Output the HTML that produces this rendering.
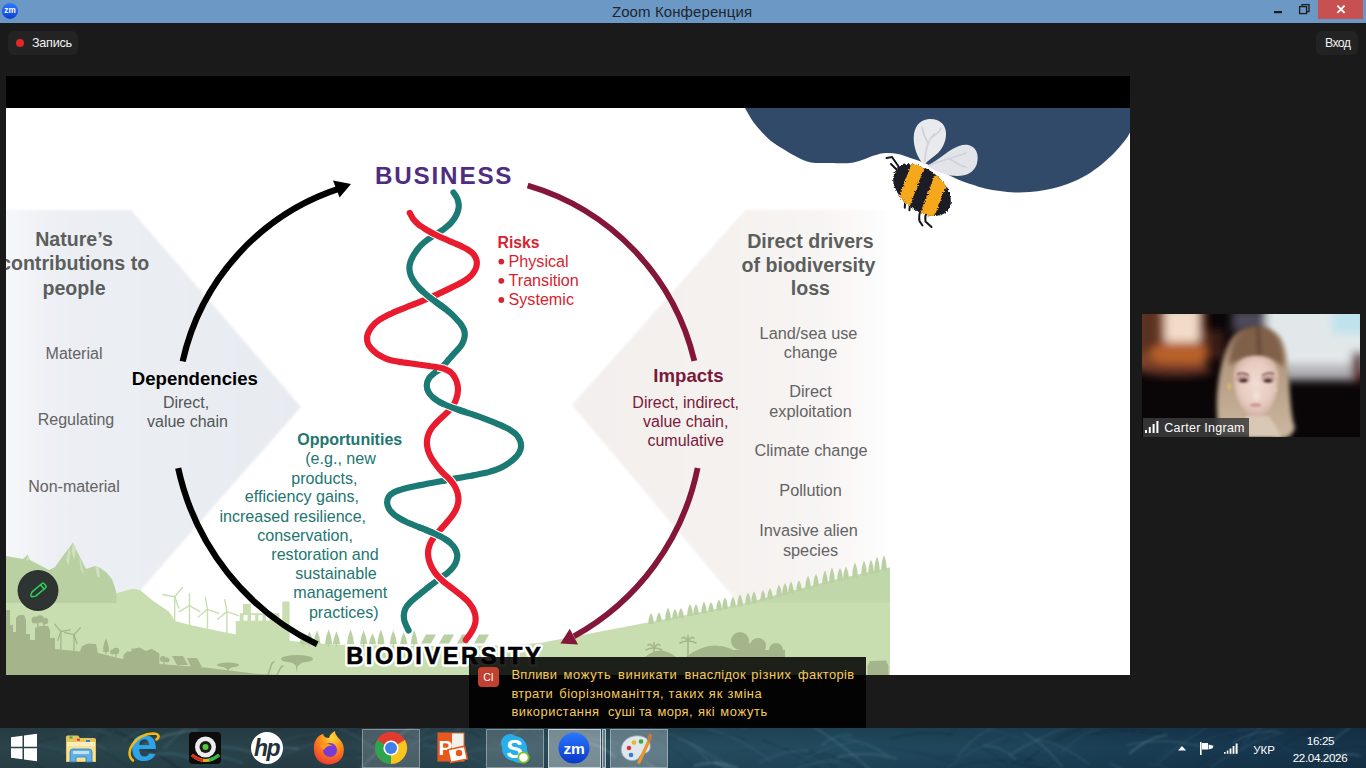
<!DOCTYPE html>
<html><head><meta charset="utf-8"><title>Zoom Конференция</title>
<style>
html,body{margin:0;padding:0;}
body{width:1366px;height:768px;overflow:hidden;background:#1a1a1a;position:relative;font-family:"Liberation Sans","DejaVu Sans",sans-serif;}
.abs{position:absolute;}

.tb{left:0;top:0;width:1366px;height:23px;background:#6b98c5;}
.ttl{left:0;top:0;width:1366px;height:23px;line-height:23px;text-align:center;font-size:15px;color:#1e2630;}
.pill{background:#232323;border-radius:6px;color:#f2f2f2;font-size:12.5px;}
.cap{left:469px;top:657px;width:397px;height:71px;background:rgba(0,0,0,0.86);}
.capt{left:511.5px;top:665.5px;width:360px;color:#f2c254;font-size:13.6px;line-height:18.5px;white-space:nowrap;}
.task{left:0;top:728px;width:1366px;height:40px;overflow:hidden;background:#1d4152;}

</style></head><body>
<div class="abs tb"></div>
<div class="abs ttl"><span style="position:relative;left:-1px;letter-spacing:0.1px">Zoom Конференция</span></div>
<svg class="abs" style="left:0;top:0" width="1366" height="23" viewBox="0 0 1366 23">
<defs><linearGradient id="zmg" x1="0" y1="0" x2="0" y2="1"><stop offset="0" stop-color="#2f7bff"/><stop offset="1" stop-color="#0b3fd6"/></linearGradient></defs>
<circle cx="10" cy="10.9" r="8" fill="url(#zmg)"/>
<text x="10" y="13.3" font-size="8.2" font-weight="bold" fill="#fff" text-anchor="middle" font-family="Liberation Sans, sans-serif">zm</text>
<rect x="1274" y="11" width="8" height="2.2" fill="#1c1c1c"/>
<g fill="none" stroke="#1c1c1c" stroke-width="1.3"><rect x="1299.6" y="6.6" width="7" height="7"/><path d="M1302 6.6 V4.6 H1309 V11.6 H1306.6"/></g>
<rect x="1318" y="0" width="45" height="19" fill="#c75050"/>
<path d="M1337.4 5.6 L1344.6 12.8 M1344.6 5.6 L1337.4 12.8" stroke="#fff" stroke-width="1.9"/>
</svg>
<div class="abs pill" style="left:8px;top:31px;width:70px;height:24px;"></div>
<div class="abs" style="left:16px;top:39px;width:8px;height:8px;border-radius:50%;background:#e02828;"></div>
<div class="abs" style="left:32px;top:31px;height:24px;line-height:24px;color:#f2f2f2;font-size:12.6px;letter-spacing:-0.25px">Запись</div>
<div class="abs pill" style="left:1316px;top:31px;width:42px;height:24px;"></div>
<div class="abs" style="left:1325px;top:31px;height:24px;line-height:24px;color:#f2f2f2;font-size:12.3px;letter-spacing:-0.65px">Вход</div>
<div class="abs" style="left:6px;top:76px;width:1124px;height:599px;background:#000;"></div>
<div class="abs" style="left:6px;top:108px;width:1124px;height:567px;background:#fff;overflow:hidden;">
<svg width="1124" height="567" viewBox="6 108 1124 567" style="position:absolute;left:0;top:0;font-family:'Liberation Sans',sans-serif">
<defs>
<linearGradient id="gL" x1="0" x2="1" y1="0" y2="0"><stop offset="0" stop-color="#f7f8fa"/><stop offset="0.2" stop-color="#eceff4"/><stop offset="1" stop-color="#e7ebf1"/></linearGradient>
<linearGradient id="gR" gradientUnits="userSpaceOnUse" x1="572" x2="890" y1="0" y2="0"><stop offset="0" stop-color="#f3efed"/><stop offset="0.55" stop-color="#f5f2f0"/><stop offset="0.8" stop-color="#f8f5f4"/><stop offset="0.96" stop-color="#fdfcfc"/><stop offset="1" stop-color="#ffffff"/></linearGradient>
<filter id="glow" x="-10%" y="-40%" width="120%" height="180%"><feMorphology in="SourceAlpha" operator="dilate" radius="2.6" result="d"/><feGaussianBlur in="d" stdDeviation="0.8" result="b"/><feFlood flood-color="#fff"/><feComposite in2="b" operator="in"/></filter>
<filter id="soft2" x="-5%" y="-30%" width="110%" height="160%"><feGaussianBlur stdDeviation="0.5"/></filter>
<filter id="soft" x="-5%" y="-5%" width="110%" height="110%"><feGaussianBlur stdDeviation="0.9"/></filter>
</defs>
<path d="M0 210 L131 210 L301 406.9 L141 589.5 L131 610 L0 640Z" fill="url(#gL)" filter="url(#soft)"/>
<path d="M572 405 L745.3 210 L890 210 L890 640 L769.5 640Z" fill="url(#gR)" filter="url(#soft)"/>
<path d="M6.0 556.0 L23.0 559.0 L27.5 554.5 L30.0 560.0 L49.0 570.0 L55.0 567.0 L64.0 554.5 L69.0 548.0 L73.0 542.5 L76.0 549.0 L79.0 555.0 L86.0 569.0 L95.0 566.0 L100.0 567.8 L106.3 572.5 L111.7 578.8 L114.5 586.0 L116.4 593.6 L128.0 594.0 L140.0 590.0 L150.0 600.0 L150.0 612.0 L6.0 612.0Z" fill="#b9d0a3"/>
<g fill="#cfe0be"><path d="M73 542.5 L76 549 L74.5 560 L71.5 552Z"/><path d="M69 548 L66 560 L68.5 566 L70.5 553Z"/><path d="M79 555 L82 566 L84.5 576 L80.5 569Z"/><path d="M95 566 L97 576 L100 578 L99 568Z"/><path d="M27.5 554.5 L29 560 L26.5 561Z"/></g>
<path d="M6.0 603.0 L116.4 603.0 L116.4 593.6 L119.0 592.6 L122.0 591.8 L126.0 590.6 L129.0 589.8 L132.5 589.1 L135.9 588.9 L139.5 590.2 L143.0 592.5 L147.0 595.8 L151.6 599.8 L160.0 605.5 L168.8 611.6 L171.5 615.0 L173.4 618.6 L175.0 621.0 L189.0 624.8 L207.8 628.8 L227.3 632.7 L235.2 634.2 L290.0 640.8 L318.0 643.6 L340.0 644.8 L380.0 645.5 L440.0 646.0 L500.0 645.5 L540.0 643.0 L653.0 621.5 L751.0 602.0 L830.0 581.0 L890.0 567.5 L890.0 675.0 L6.0 675.0Z" fill="#c9deb0"/>
<path d="M748 602.6 L751 602 L830 581 L890 567.5 L890 602.6Z" fill="#c0d7aa"/>
<g stroke="#c9deb0" stroke-width="1.4" stroke-linecap="round" fill="none"><path d="M174.7 620.8 L174.7 596.8"/><path d="M174.7 596.8 L182.4 587.6"/><path d="M174.7 596.8 L178.8 608.1"/><path d="M174.7 596.8 L162.9 594.7"/></g>
<g stroke="#c9deb0" stroke-width="1.4" stroke-linecap="round" fill="none"><path d="M189.5 624.6 L189.5 605.6"/><path d="M189.5 605.6 L189.5 593.6"/><path d="M189.5 605.6 L199.9 611.6"/><path d="M189.5 605.6 L179.1 611.6"/></g>
<g stroke="#c9deb0" stroke-width="1.4" stroke-linecap="round" fill="none"><path d="M207.5 628.8 L207.5 609.3"/><path d="M207.5 609.3 L205.4 597.5"/><path d="M207.5 609.3 L218.8 613.4"/><path d="M207.5 609.3 L198.3 617.0"/></g>
<g stroke="#c9deb0" stroke-width="1.4" stroke-linecap="round" fill="none"><path d="M226.9 632.6 L226.9 611.6"/><path d="M226.9 611.6 L224.8 599.8"/><path d="M226.9 611.6 L238.2 615.7"/><path d="M226.9 611.6 L217.7 619.3"/></g>
<path d="M235.8 646 L235.8 621 L239.7 621 L239.7 613.2 L243 613.2 L243 604 L250.8 604 L250.8 613.2 L279.4 613.2 L279.4 620.3 L282.3 620.3 L282.3 601.4 L289.6 601.4 L289.6 646Z" fill="#c9deb0"/>
<g fill="#fff"><rect x="243.6" y="615" width="3.9" height="5.6"/><rect x="251" y="615" width="4.2" height="5.6"/><rect x="258.3" y="615" width="4.2" height="5.6"/><rect x="265.8" y="615" width="3.9" height="5.6"/></g>
<path d="M299.4 644.3 Q300.0 639.2 303.0 634.3 Q306.0 639.2 306.6 644.3 Z" fill="#b9d0a3"/><rect x="302.4" y="643.8" width="1.2" height="3" fill="#b9d0a3"/>
<path d="M305.9 644.3 Q306.5 637.6 309.5 631.3 Q312.5 637.6 313.1 644.3 Z" fill="#b9d0a3"/><rect x="308.9" y="643.8" width="1.2" height="3" fill="#b9d0a3"/>
<path d="M313.4 644.3 Q314.0 637.0 317.0 630.3 Q320.0 637.0 320.6 644.3 Z" fill="#b9d0a3"/><rect x="316.4" y="643.8" width="1.2" height="3" fill="#b9d0a3"/>
<path d="M325.0 644.3 Q325.6 636.5 328.6 629.3 Q331.6 636.5 332.2 644.3 Z" fill="#b9d0a3"/><rect x="328.0" y="643.8" width="1.2" height="3" fill="#b9d0a3"/>
<path d="M332.9 644.3 Q333.5 637.6 336.5 631.3 Q339.5 637.6 340.1 644.3 Z" fill="#b9d0a3"/><rect x="335.9" y="643.8" width="1.2" height="3" fill="#b9d0a3"/>
<path d="M346.9 644.3 Q347.5 636.5 350.5 629.3 Q353.5 636.5 354.1 644.3 Z" fill="#b9d0a3"/><rect x="349.9" y="643.8" width="1.2" height="3" fill="#b9d0a3"/>
<path d="M360.0 644.3 Q360.6 637.0 363.6 630.3 Q366.6 637.0 367.2 644.3 Z" fill="#b9d0a3"/><rect x="363.0" y="643.8" width="1.2" height="3" fill="#b9d0a3"/>
<path d="M368.9 644.3 Q369.5 638.7 372.5 633.3 Q375.5 638.7 376.1 644.3 Z" fill="#b9d0a3"/><rect x="371.9" y="643.8" width="1.2" height="3" fill="#b9d0a3"/>
<path d="M377.3 644.3 Q377.9 636.5 380.9 629.3 Q383.9 636.5 384.5 644.3 Z" fill="#b9d0a3"/><rect x="380.3" y="643.8" width="1.2" height="3" fill="#b9d0a3"/>
<path d="M389.7 644.3 Q390.3 637.0 393.3 630.3 Q396.3 637.0 396.9 644.3 Z" fill="#b9d0a3"/><rect x="392.7" y="643.8" width="1.2" height="3" fill="#b9d0a3"/>
<path d="M400.1 644.3 Q400.7 638.1 403.7 632.3 Q406.7 638.1 407.3 644.3 Z" fill="#b9d0a3"/><rect x="403.1" y="643.8" width="1.2" height="3" fill="#b9d0a3"/>
<path d="M410.6 644.3 Q411.2 637.0 414.2 630.3 Q417.2 637.0 417.8 644.3 Z" fill="#b9d0a3"/><rect x="413.6" y="643.8" width="1.2" height="3" fill="#b9d0a3"/>
<path d="M421 643.5 L426 634.5 L436 634.5 L431 643.5Z" fill="#b9d0a3"/>
<path d="M439 643.5 L444 634.5 L454 634.5 L449 643.5Z" fill="#b9d0a3"/>
<path d="M457 643.5 L462 634.5 L472 634.5 L467 643.5Z" fill="#b9d0a3"/>
<path d="M474 643.5 L479 634.5 L489 634.5 L484 643.5Z" fill="#b9d0a3"/>
<path d="M648.3 623.9 Q648.1 617.4 651.0 612.9 Q653.9 617.4 653.7 623.9 Z" fill="#b9d0a3"/>
<path d="M656.3 622.3 Q656.1 616.3 659.0 612.3 Q661.9 616.3 661.7 622.3 Z" fill="#b9d0a3"/>
<path d="M665.3 620.5 Q665.1 613.0 668.0 607.5 Q670.9 613.0 670.7 620.5 Z" fill="#b9d0a3"/>
<path d="M672.3 619.1 Q672.1 613.1 675.0 609.1 Q677.9 613.1 677.7 619.1 Z" fill="#b9d0a3"/>
<path d="M678.3 617.9 Q678.1 611.9 681.0 607.9 Q683.9 611.9 683.7 617.9 Z" fill="#b9d0a3"/>
<path d="M687.3 616.1 Q687.1 609.1 690.0 604.1 Q692.9 609.1 692.7 616.1 Z" fill="#b9d0a3"/>
<path d="M693.3 614.9 Q693.1 608.4 696.0 603.9 Q698.9 608.4 698.7 614.9 Z" fill="#b9d0a3"/>
<path d="M701.3 613.4 Q701.1 606.4 704.0 601.4 Q706.9 606.4 706.7 613.4 Z" fill="#b9d0a3"/>
<path d="M708.3 612.0 Q708.1 606.0 711.0 602.0 Q713.9 606.0 713.7 612.0 Z" fill="#b9d0a3"/>
<path d="M716.3 610.4 Q716.1 603.9 719.0 599.4 Q721.9 603.9 721.7 610.4 Z" fill="#b9d0a3"/>
<path d="M722.3 609.2 Q722.1 602.2 725.0 597.2 Q727.9 602.2 727.7 609.2 Z" fill="#b9d0a3"/>
<path d="M730.3 607.6 Q730.1 601.1 733.0 596.6 Q735.9 601.1 735.7 607.6 Z" fill="#b9d0a3"/>
<path d="M737.3 606.2 Q737.1 599.2 740.0 594.2 Q742.9 599.2 742.7 606.2 Z" fill="#b9d0a3"/>
<path d="M745.3 604.6 Q745.1 597.6 748.0 592.6 Q750.9 597.6 750.7 604.6 Z" fill="#b9d0a3"/>
<path d="M751.3 603.2 Q751.1 596.2 754.0 591.2 Q756.9 596.2 756.7 603.2 Z" fill="#b9d0a3"/>
<path d="M760.3 600.8 Q760.1 594.3 763.0 589.8 Q765.9 594.3 765.7 600.8 Z" fill="#b9d0a3"/>
<path d="M767.3 598.9 Q767.1 592.4 770.0 587.9 Q772.9 592.4 772.7 598.9 Z" fill="#b9d0a3"/>
<path d="M776.3 596.6 Q776.1 589.6 779.0 584.6 Q781.9 589.6 781.7 596.6 Z" fill="#b9d0a3"/>
<path d="M782.3 595.0 Q782.1 588.0 785.0 583.0 Q787.9 588.0 787.7 595.0 Z" fill="#b9d0a3"/>
<path d="M788.3 593.4 Q788.1 586.4 791.0 581.4 Q793.9 586.4 793.7 593.4 Z" fill="#b9d0a3"/>
<path d="M796.3 591.2 Q796.1 584.7 799.0 580.2 Q801.9 584.7 801.7 591.2 Z" fill="#b9d0a3"/>
<path d="M805.3 588.8 Q805.1 581.3 808.0 575.8 Q810.9 581.3 810.7 588.8 Z" fill="#b9d0a3"/>
<path d="M813.3 586.7 Q813.1 579.2 816.0 573.7 Q818.9 579.2 818.7 586.7 Z" fill="#b9d0a3"/>
<path d="M822.3 584.3 Q822.1 576.3 825.0 570.3 Q827.9 576.3 827.7 584.3 Z" fill="#b9d0a3"/>
<path d="M829.3 582.5 Q829.1 574.0 832.0 567.5 Q834.9 574.0 834.7 582.5 Z" fill="#b9d0a3"/>
<path d="M837.3 580.8 Q837.1 573.2 840.0 567.8 Q842.9 573.2 842.7 580.8 Z" fill="#b9d0a3"/>
<path d="M843.3 579.4 Q843.1 571.9 846.0 566.4 Q848.9 571.9 848.7 579.4 Z" fill="#b9d0a3"/>
<path d="M852.3 577.4 Q852.1 568.9 855.0 562.4 Q857.9 568.9 857.7 577.4 Z" fill="#b9d0a3"/>
<path d="M861.3 575.4 Q861.1 566.9 864.0 560.4 Q866.9 566.9 866.7 575.4 Z" fill="#b9d0a3"/>
<path d="M868.3 573.8 Q868.1 565.8 871.0 559.8 Q873.9 565.8 873.7 573.8 Z" fill="#b9d0a3"/>
<path d="M874.3 572.4 Q874.1 563.4 877.0 556.4 Q879.9 563.4 879.7 572.4 Z" fill="#b9d0a3"/>
<path d="M881.3 570.9 Q881.1 561.9 884.0 554.9 Q886.9 561.9 886.7 570.9 Z" fill="#b9d0a3"/>
<path d="M6.0 610.0 L10.0 610.0 L10.0 625.0 L13.0 625.0 L13.0 632.0 L16.0 632.0 L16.0 618.0 L19.0 615.0 L24.0 615.0 L26.0 620.0 L26.0 634.0 L30.0 634.0 L30.0 640.0 L35.0 640.0 L35.0 628.0 L40.0 626.0 L48.0 626.0 L50.0 630.0 L50.0 638.0 L55.0 638.0 L55.0 649.0 L80.0 651.5 L82.0 646.0 L88.0 643.5 L96.0 644.0 L98.0 653.0 L123.4 659.2 L123.4 655.0 L127.0 651.5 L131.5 651.5 L131.5 648.5 L135.0 648.5 L139.5 647.4 L144.0 650.0 L146.0 651.0 L151.5 648.8 L159.4 653.5 L159.4 663.9 L205.0 667.4 L256.0 673.8 L282.0 675.0 L6.0 675.0Z" fill="#a4b58b"/>
<g fill="#a4b58b"><circle cx="35" cy="620" r="3.5"/><circle cx="40" cy="619" r="3.8"/><circle cx="45" cy="621" r="3.2"/><rect x="37" y="620" width="1.5" height="8"/><rect x="43" y="620" width="1.5" height="8"/></g>
<g stroke="#a4b58b" stroke-width="1.3" stroke-linecap="round" fill="none"><path d="M60.9 650.0 L60.9 631.5"/><path d="M60.9 631.5 L54.7 624.1"/><path d="M60.9 631.5 L70.4 629.8"/><path d="M60.9 631.5 L57.6 640.5"/></g>
<g stroke="#a4b58b" stroke-width="1.3" stroke-linecap="round" fill="none"><path d="M74.0 651.5 L74.0 634.7"/><path d="M74.0 634.7 L80.4 627.6"/><path d="M74.0 634.7 L77.0 643.8"/><path d="M74.0 634.7 L64.6 632.7"/></g>
<g fill="#a4b58b"><path d="M106 638.6 Q109.6 646 108.6 652 L103.4 652 Q102.4 646 106 638.6Z"/><rect x="105.3" y="645" width="1.4" height="9"/><circle cx="116" cy="651" r="3.2"/><circle cx="112.5" cy="652" r="2.4"/><rect x="115.3" y="651" width="1.3" height="6"/><circle cx="163" cy="659" r="3"/><circle cx="167" cy="660" r="2.5"/><rect x="163.4" y="659" width="1.2" height="6"/></g>
<g fill="#a4b58b"><path d="M172 656 L183 656 L188 665 L177 665Z"/><path d="M187 658 L197 658 L202 667 L191 667Z"/></g>
<g fill="#a4b58b"><ellipse cx="228.0" cy="665.0" rx="11.0" ry="2.5"/><path d="M227.2 674.0 L227.2 669.5 L221.4 665.0 L234.6 665.0 L228.8 669.5 Z"/></g>
<g fill="#a4b58b"><ellipse cx="297.0" cy="659.0" rx="16.0" ry="3.9"/><path d="M296.2 673.0 L296.2 666.0 L287.4 659.0 L306.6 659.0 L297.8 666.0 Z"/></g>
<g fill="none" stroke="#a4b58b" stroke-width="1.6" stroke-linecap="round"><path d="M268 675 L272 663 L274 662"/><path d="M277 675 L281 667 L283 666"/></g>
<g fill="#a4b58b"><path d="M645 657 Q660 644 676 657Z"/><path d="M686 657 Q715 634 745 657Z"/><circle cx="740" cy="641" r="9"/><circle cx="758" cy="646" r="8"/><circle cx="776" cy="650" r="7"/><circle cx="748" cy="650" r="7"/><rect x="730" y="650" width="55" height="8"/><path d="M867.5 675 L867.5 666 L870 661 L886 660.5 L888.5 666 L888.5 675Z"/></g>
<g stroke="#a4b58b" stroke-width="1.6" fill="none" stroke-linecap="round"><path d="M654.0 657.0 L654.0 648.0"/><path d="M654.0 648.0 Q649.2 648.0 646.0 650.0"/><path d="M654.0 648.0 Q650.4 643.0 648.0 645.0"/><path d="M654.0 648.0 Q654.0 641.0 654.0 643.0"/><path d="M654.0 648.0 Q657.6 643.0 660.0 645.0"/><path d="M654.0 648.0 Q658.8 648.0 662.0 650.0"/></g>
<g stroke="#a4b58b" stroke-width="1.6" fill="none" stroke-linecap="round"><path d="M688.0 657.0 L688.0 641.0"/><path d="M688.0 641.0 Q683.2 641.0 680.0 643.0"/><path d="M688.0 641.0 Q684.4 636.0 682.0 638.0"/><path d="M688.0 641.0 Q688.0 634.0 688.0 636.0"/><path d="M688.0 641.0 Q691.6 636.0 694.0 638.0"/><path d="M688.0 641.0 Q692.8 641.0 696.0 643.0"/></g>
<path d="M745.0 108.0 C746.2 110.0 749.5 116.3 752.0 120.0 C754.5 123.7 756.8 126.5 760.0 130.0 C763.2 133.5 767.0 137.8 771.0 141.0 C775.0 144.2 779.7 146.8 784.0 149.5 C788.3 152.2 792.5 154.8 797.0 157.0 C801.5 159.2 805.5 161.4 811.0 162.4 C816.5 163.4 823.5 162.9 830.0 163.0 C836.5 163.1 844.7 163.5 850.0 163.0 C855.3 162.5 858.0 161.2 862.0 160.0 C866.0 158.8 870.0 156.7 874.0 155.5 C878.0 154.3 882.0 153.2 886.0 153.0 C890.0 152.8 893.7 153.1 898.0 154.0 C902.3 154.9 907.0 156.8 912.0 158.5 C917.0 160.2 922.8 162.2 928.0 164.5 C933.2 166.8 938.0 169.5 943.0 172.0 C948.0 174.5 953.2 177.4 958.0 179.5 C962.8 181.6 967.5 183.0 972.0 184.5 C976.5 186.0 980.3 187.4 985.0 188.5 C989.7 189.6 995.0 190.3 1000.0 191.0 C1005.0 191.7 1010.0 192.2 1015.0 192.4 C1020.0 192.6 1025.0 192.4 1030.0 192.0 C1035.0 191.6 1040.0 190.9 1045.0 190.0 C1050.0 189.1 1055.0 188.0 1060.0 186.5 C1065.0 185.0 1070.0 183.2 1075.0 181.0 C1080.0 178.8 1085.0 176.2 1090.0 173.0 C1095.0 169.8 1100.7 165.2 1105.0 161.5 C1109.3 157.8 1112.5 154.8 1116.0 151.0 C1119.5 147.2 1123.7 142.1 1126.0 139.0 C1128.3 135.9 1129.3 133.5 1130.0 132.4 L1130 108Z" fill="#324a69"/>
<g>
<defs><filter id="fuzz" x="-10%" y="-10%" width="120%" height="120%"><feTurbulence type="fractalNoise" baseFrequency="0.55" numOctaves="2" seed="3" result="n"/><feDisplacementMap in="SourceGraphic" in2="n" scale="4.5" xChannelSelector="R" yChannelSelector="G"/></filter></defs>
<path d="M924 165 C911 151 908 121 929 119 C950 118 950 141 938 153 C932 158 927 161 924 165Z" fill="#e9eaee"/>
<path d="M927 166 C940 159 948 150 959 146 C973 141 981 152 976.5 165 C971 179 950 180 927 166Z" fill="#e3e4e9"/>
<g stroke="#d0d2d9" stroke-width="1.7" fill="none" stroke-linecap="round"><path d="M925 161 C925 150 927 142 934 134 M928 143 C925 138 923 133 922 127 M932 137 C937 134 940 132 941 128"/><path d="M930 165 C942 160 954 158 966 153 M950 159 C956 163 961 166 966 167"/></g>
<g stroke="#15151c" stroke-width="2" stroke-linecap="round" fill="none"><path d="M899.6 168 L892 157 L886.5 158"/><path d="M897 170 L891 164"/><path d="M906.4 196 Q904.5 202 904.8 207.8"/><path d="M911.5 198.5 Q909.5 204 909.4 210.2"/><path d="M920.8 209.5 Q918.5 216 919.5 221 L922.5 225.5"/><path d="M926.7 212 Q924.5 217 925.5 221.5 L931.5 227"/></g>
<g filter="url(#fuzz)"><g transform="rotate(38 922 190)">
<clipPath id="beeclip"><ellipse cx="922" cy="190" rx="33" ry="20.5"/></clipPath>
<ellipse cx="922" cy="190" rx="33" ry="20.5" fill="#1b1b25"/>
<g clip-path="url(#beeclip)"><path d="M894 165 L908 165 L924 215 L910 215Z" fill="#f6a81e"/><path d="M921 165 L936 165 L952 215 L937 215Z" fill="#f6a81e"/></g>
</g></g>
</g>
<path d="M182.66 361.31 A236.0 236.0 0 0 1 340.99 187.96" fill="none" stroke="#000" stroke-width="6.2"/>
<path d="M351 184.1 L333 180.6 L339.6 197.6Z" fill="#000"/>
<path d="M178.18 468.21 A255.3 255.3 0 0 0 317.14 644.32" fill="none" stroke="#000" stroke-width="6.2"/>
<path d="M527.66 185.50 A240.9 240.9 0 0 1 694.35 360.89" fill="none" stroke="#841639" stroke-width="5.8"/>
<path d="M697.61 467.96 A248.7 248.7 0 0 1 573.95 636.21" fill="none" stroke="#841639" stroke-width="5.8"/>
<path d="M560.4 643.4 L569.8 628.8 L578 644.5Z" fill="#841639"/>
<path d="M453.5 192.5 C454.1 193.5 456.3 196.3 457.2 198.4 C458.1 200.6 458.7 202.9 458.8 205.2 C458.9 207.5 458.3 209.9 457.6 212.0 C456.9 214.2 455.7 216.3 454.5 218.3 C453.2 220.2 451.7 222.1 450.1 223.8 C448.5 225.4 446.7 226.9 444.8 228.3 C443.0 229.8 441.0 231.0 439.0 232.3 C437.1 233.6 435.1 234.8 433.2 236.0 C431.2 237.3 429.2 238.6 427.3 239.9 C425.5 241.3 423.6 242.8 421.9 244.4 C420.3 246.0 418.7 247.8 417.3 249.6 C415.9 251.5 414.6 253.4 413.4 255.4 C412.3 257.5 411.1 259.6 410.5 261.8 C409.8 264.0 409.3 266.4 409.4 268.6 C409.4 270.9 410.0 273.3 410.8 275.5 C411.6 277.6 412.8 279.7 414.1 281.6 C415.3 283.6 416.9 285.4 418.4 287.1 C420.0 288.8 421.7 290.4 423.4 292.0 C425.2 293.6 426.9 295.1 428.7 296.6 C430.5 298.0 432.4 299.5 434.3 300.8 C436.2 302.2 438.1 303.5 440.0 304.9 C441.9 306.2 443.8 307.6 445.6 309.0 C447.4 310.5 449.2 312.0 450.9 313.6 C452.6 315.2 454.3 316.8 455.9 318.5 C457.5 320.2 459.2 321.9 460.6 323.7 C461.9 325.6 463.3 327.6 464.0 329.8 C464.7 332.0 464.9 334.5 464.6 336.7 C464.3 339.0 463.5 341.3 462.4 343.3 C461.4 345.4 459.8 347.2 458.3 349.0 C456.8 350.8 455.1 352.3 453.5 354.1 C451.9 355.8 450.4 357.6 448.9 359.3 C447.4 361.1 446.0 363.0 444.4 364.7 C442.8 366.4 441.1 368.0 439.3 369.5 C437.5 371.0 435.4 372.1 433.7 373.6 C431.9 375.1 429.9 376.7 428.8 378.6 C427.6 380.5 426.8 383.0 426.8 385.2 C426.7 387.4 427.4 389.9 428.4 391.9 C429.4 393.9 431.1 395.8 432.8 397.3 C434.4 398.9 436.5 400.2 438.5 401.4 C440.5 402.6 442.6 403.6 444.7 404.5 C446.9 405.5 449.0 406.3 451.2 407.1 C453.4 408.0 455.6 408.7 457.8 409.5 C460.0 410.3 462.2 411.0 464.4 411.7 C466.7 412.5 468.9 413.2 471.1 413.9 C473.3 414.7 475.5 415.4 477.7 416.2 C479.9 417.0 482.1 417.8 484.3 418.6 C486.5 419.4 488.6 420.3 490.8 421.1 C493.0 422.0 495.1 422.9 497.3 423.8 C499.4 424.7 501.6 425.6 503.7 426.6 C505.8 427.6 508.0 428.5 509.9 429.8 C511.9 431.0 513.9 432.3 515.6 433.9 C517.2 435.5 518.7 437.5 519.6 439.5 C520.6 441.6 521.2 444.1 521.1 446.3 C521.0 448.6 520.1 450.9 519.0 452.9 C517.9 454.9 516.2 456.7 514.6 458.3 C512.9 460.0 511.1 461.5 509.2 462.8 C507.3 464.2 505.3 465.4 503.2 466.5 C501.2 467.6 499.1 468.6 496.9 469.4 C494.7 470.3 492.5 471.0 490.3 471.6 C488.0 472.3 485.7 472.8 483.5 473.3 C481.2 473.8 478.9 474.3 476.6 474.7 C474.3 475.1 472.0 475.6 469.7 476.0 C467.4 476.4 465.1 476.8 462.8 477.2 C460.5 477.6 458.2 478.0 455.9 478.4 C453.6 478.9 451.3 479.3 449.1 479.7 C446.8 480.1 444.5 480.6 442.2 481.0 C439.9 481.4 437.6 481.8 435.3 482.3 C433.0 482.7 430.7 483.1 428.4 483.5 C426.1 484.0 423.8 484.4 421.5 484.9 C419.2 485.3 417.0 485.8 414.7 486.3 C412.4 486.8 410.1 487.3 407.9 487.8 C405.6 488.4 403.3 488.9 401.1 489.6 C398.9 490.3 396.5 490.9 394.5 492.0 C392.5 493.1 390.3 494.5 389.0 496.3 C387.8 498.1 387.0 500.6 387.1 502.8 C387.1 505.0 388.2 507.4 389.3 509.4 C390.5 511.3 392.3 513.0 394.0 514.6 C395.8 516.1 397.8 517.3 399.8 518.5 C401.8 519.7 403.9 520.7 406.0 521.7 C408.1 522.7 410.3 523.6 412.4 524.5 C414.6 525.4 416.8 526.2 418.9 527.1 C421.1 528.0 423.3 528.8 425.4 529.7 C427.6 530.6 429.7 531.5 431.9 532.4 C434.0 533.4 436.1 534.3 438.2 535.4 C440.3 536.4 442.4 537.5 444.4 538.7 C446.3 539.9 448.4 541.2 450.1 542.7 C451.8 544.3 453.5 546.0 454.7 548.0 C455.9 549.9 456.9 552.2 457.2 554.5 C457.4 556.7 457.0 559.2 456.3 561.3 C455.6 563.5 454.3 565.6 452.9 567.4 C451.5 569.3 449.8 570.9 448.0 572.4 C446.3 574.0 444.3 575.2 442.4 576.6 C440.6 578.0 438.6 579.4 436.8 580.7 C434.9 582.1 433.1 583.6 431.2 585.0 C429.4 586.5 427.6 587.9 425.7 589.3 C423.9 590.8 422.1 592.2 420.3 593.7 C418.4 595.2 416.6 596.6 414.9 598.2 C413.1 599.7 411.3 601.2 409.7 602.9 C408.1 604.6 406.5 606.4 405.5 608.5 C404.5 610.5 403.9 612.9 403.8 615.2 C403.7 617.5 404.0 619.6 404.8 622.1 C405.6 624.7 408.0 629.1 408.6 630.5" fill="none" stroke="#1b7a73" stroke-width="6.2" stroke-linecap="round"/>
<path d="M429.8 231.7 C431.9 232.9 433.9 234.0 436.0 235.0 C438.1 236.0 440.2 237.0 442.4 238.0" fill="none" stroke="#fff" stroke-width="8.4"/>
<path d="M437.5 367.3 C439.8 367.7 442.1 368.1 444.3 368.8 C446.4 369.6 448.7 370.6 450.5 372.0" fill="none" stroke="#fff" stroke-width="8.4"/>
<path d="M443.4 473.4 C445.0 475.1 446.9 476.5 448.5 478.2 C450.1 479.9 451.7 481.6 453.0 483.5" fill="none" stroke="#fff" stroke-width="8.4"/>
<path d="M437.3 575.5 C438.8 577.3 440.5 578.9 442.3 580.4 C444.0 582.0 445.8 583.4 447.7 584.9" fill="none" stroke="#fff" stroke-width="8.4"/>
<path d="M409.8 213.0 C410.4 214.0 411.9 217.2 413.3 219.1 C414.7 220.9 416.4 222.6 418.1 224.1 C419.9 225.6 421.9 226.8 423.8 228.1 C425.8 229.4 427.8 230.6 429.8 231.7 C431.9 232.9 433.9 234.0 436.0 235.0 C438.1 236.0 440.2 237.0 442.4 238.0 C444.5 238.9 446.6 239.8 448.8 240.8 C450.9 241.7 453.1 242.6 455.2 243.5 C457.3 244.5 459.5 245.4 461.6 246.4 C463.7 247.4 465.9 248.4 467.8 249.6 C469.7 250.9 471.8 252.2 473.3 254.0 C474.7 255.7 476.0 257.9 476.5 260.1 C477.0 262.3 476.9 264.8 476.3 267.0 C475.7 269.2 474.5 271.3 473.1 273.2 C471.8 275.1 470.0 276.7 468.2 278.2 C466.4 279.6 464.4 280.8 462.4 282.0 C460.3 283.2 458.3 284.2 456.2 285.3 C454.1 286.4 452.0 287.4 449.9 288.4 C447.8 289.4 445.7 290.4 443.6 291.4 C441.5 292.4 439.4 293.4 437.3 294.4 C435.1 295.4 433.0 296.3 430.9 297.3 C428.7 298.2 426.6 299.1 424.4 300.0 C422.3 300.9 420.1 301.8 418.0 302.7 C415.8 303.5 413.6 304.4 411.5 305.2 C409.3 306.1 407.1 307.0 404.9 307.8 C402.8 308.7 400.6 309.5 398.5 310.4 C396.3 311.3 394.1 312.2 392.0 313.2 C389.9 314.2 387.8 315.1 385.7 316.2 C383.6 317.3 381.6 318.4 379.6 319.7 C377.7 321.0 375.9 322.5 374.2 324.1 C372.6 325.8 371.0 327.6 369.9 329.6 C368.7 331.6 367.6 333.8 367.2 336.0 C366.9 338.2 367.0 340.8 367.7 342.9 C368.4 345.1 369.9 347.1 371.4 348.8 C372.9 350.6 374.8 352.0 376.7 353.4 C378.6 354.8 380.5 356.0 382.6 357.1 C384.7 358.2 386.8 359.1 389.1 359.8 C391.3 360.5 393.6 360.9 395.9 361.3 C398.2 361.7 400.5 362.0 402.8 362.4 C405.1 362.7 407.4 363.0 409.7 363.3 C412.1 363.6 414.4 363.9 416.7 364.2 C419.0 364.5 421.3 364.9 423.6 365.2 C425.9 365.5 428.2 365.8 430.6 366.2 C432.9 366.5 435.2 366.8 437.5 367.3 C439.8 367.7 442.1 368.1 444.3 368.8 C446.4 369.6 448.7 370.6 450.5 372.0 C452.2 373.5 453.7 375.5 454.8 377.5 C456.0 379.5 456.8 381.7 457.3 384.0 C457.9 386.2 458.1 388.6 457.9 390.9 C457.8 393.2 457.3 395.6 456.6 397.8 C456.0 400.0 455.0 402.2 453.9 404.2 C452.7 406.2 451.2 408.0 449.7 409.8 C448.1 411.5 446.4 413.1 444.7 414.7 C443.0 416.3 441.3 417.9 439.6 419.5 C437.9 421.1 436.2 422.7 434.7 424.5 C433.1 426.2 431.6 428.0 430.5 430.0 C429.3 432.0 428.3 434.2 427.7 436.5 C427.1 438.7 426.9 441.1 426.9 443.4 C427.0 445.7 427.4 448.1 428.0 450.3 C428.6 452.5 429.6 454.7 430.7 456.7 C431.8 458.8 433.1 460.7 434.5 462.6 C435.8 464.6 437.2 466.4 438.7 468.2 C440.2 470.0 441.8 471.7 443.4 473.4 C445.0 475.1 446.9 476.5 448.5 478.2 C450.1 479.9 451.7 481.6 453.0 483.5 C454.4 485.4 455.6 487.5 456.4 489.6 C457.3 491.8 458.0 494.1 458.2 496.4 C458.5 498.6 458.5 501.1 458.0 503.3 C457.6 505.6 456.8 507.8 455.8 509.9 C454.8 512.0 453.4 514.0 452.1 515.9 C450.7 517.8 449.2 519.5 447.7 521.3 C446.2 523.1 444.6 524.8 443.1 526.6 C441.6 528.3 440.0 530.0 438.4 531.8 C436.9 533.6 435.3 535.3 434.0 537.2 C432.6 539.1 431.3 541.0 430.3 543.2 C429.4 545.3 428.7 547.6 428.3 549.8 C428.0 552.1 428.0 554.5 428.3 556.8 C428.6 559.1 429.3 561.4 430.1 563.6 C430.9 565.7 432.0 567.8 433.2 569.8 C434.4 571.8 435.8 573.7 437.3 575.5 C438.8 577.3 440.5 578.9 442.3 580.4 C444.0 582.0 445.8 583.4 447.7 584.9 C449.5 586.3 451.4 587.7 453.2 589.1 C455.1 590.6 456.9 592.0 458.8 593.4 C460.6 594.9 462.4 596.3 464.2 597.9 C465.9 599.4 467.6 601.1 469.1 602.8 C470.5 604.6 471.9 606.6 473.0 608.6 C474.0 610.7 474.9 613.0 475.3 615.2 C475.7 617.5 475.7 619.9 475.4 622.2 C475.0 624.4 474.2 626.7 473.2 628.8 C472.3 630.9 470.9 633.0 469.7 634.8 C468.4 636.7 466.4 639.1 465.8 640.0" fill="none" stroke="#e81c2e" stroke-width="6.2" stroke-linecap="round"/>
<path d="M423.4 292.0 C425.2 293.6 426.9 295.1 428.7 296.6 C430.5 298.0 432.4 299.5 434.3 300.8" fill="none" stroke="#fff" stroke-width="8.4"/>
<path d="M418.4 287.1 C420.0 288.8 421.7 290.4 423.4 292.0 C425.2 293.6 426.9 295.1 428.7 296.6 C430.5 298.0 432.4 299.5 434.3 300.8 C436.2 302.2 438.1 303.5 440.0 304.9 C441.9 306.2 443.8 307.6 445.6 309.0" fill="none" stroke="#1b7a73" stroke-width="6.2"/>
<path d="M444.7 404.5 C446.9 405.5 449.0 406.3 451.2 407.1 C453.4 408.0 455.6 408.7 457.8 409.5" fill="none" stroke="#fff" stroke-width="8.4"/>
<path d="M438.5 401.4 C440.5 402.6 442.6 403.6 444.7 404.5 C446.9 405.5 449.0 406.3 451.2 407.1 C453.4 408.0 455.6 408.7 457.8 409.5 C460.0 410.3 462.2 411.0 464.4 411.7" fill="none" stroke="#1b7a73" stroke-width="6.2"/>
<path d="M431.9 532.4 C434.0 533.4 436.1 534.3 438.2 535.4 C440.3 536.4 442.4 537.5 444.4 538.7" fill="none" stroke="#fff" stroke-width="8.4"/>
<path d="M418.9 527.1 C421.1 528.0 423.3 528.8 425.4 529.7 C427.6 530.6 429.7 531.5 431.9 532.4 C434.0 533.4 436.1 534.3 438.2 535.4 C440.3 536.4 442.4 537.5 444.4 538.7 C446.3 539.9 448.4 541.2 450.1 542.7" fill="none" stroke="#1b7a73" stroke-width="6.2"/>
<text x="374.9" y="184.0" font-size="24.2" fill="#4f2c7e" font-weight="bold" text-anchor="start" letter-spacing="1.85">BUSINESS</text>
<g filter="url(#soft2)"><text x="346.2" y="664.4" font-size="23.6" fill="#fff" font-weight="bold" text-anchor="start" letter-spacing="2.55" stroke="#fff" stroke-width="5.4" stroke-linejoin="round">BIODIVERSITY</text></g>
<text x="346.2" y="664.4" font-size="23.6" fill="#000" font-weight="bold" text-anchor="start" letter-spacing="2.55" stroke="#000" stroke-width="0.55">BIODIVERSITY</text>
<text x="497.5" y="247.9" font-size="15.8" fill="#d8232f" font-weight="bold" text-anchor="start">Risks</text>
<circle cx="501.3" cy="261.6" r="2.9" fill="#d8232f"/>
<text x="508.5" y="267.0" font-size="16.15" fill="#d8232f" font-weight="normal" text-anchor="start">Physical</text>
<circle cx="501.3" cy="280.8" r="2.9" fill="#d8232f"/>
<text x="508.5" y="286.2" font-size="16.15" fill="#d8232f" font-weight="normal" text-anchor="start">Transition</text>
<circle cx="501.3" cy="300.0" r="2.9" fill="#d8232f"/>
<text x="508.5" y="305.4" font-size="16.15" fill="#d8232f" font-weight="normal" text-anchor="start">Systemic</text>
<text x="74.0" y="246.0" font-size="19.6" fill="#5b5e5c" font-weight="bold" text-anchor="middle">Nature’s</text>
<text x="74.6" y="270.3" font-size="19.6" fill="#5b5e5c" font-weight="bold" text-anchor="middle">contributions to</text>
<text x="74.0" y="294.7" font-size="19.6" fill="#5b5e5c" font-weight="bold" text-anchor="middle">people</text>
<text x="74.0" y="359.4" font-size="16" fill="#636363" font-weight="normal" text-anchor="middle">Material</text>
<text x="76.0" y="425.3" font-size="16" fill="#636363" font-weight="normal" text-anchor="middle">Regulating</text>
<text x="74.0" y="492.2" font-size="16" fill="#636363" font-weight="normal" text-anchor="middle">Non-material</text>
<text x="194.8" y="385.0" font-size="18.6" fill="#000" font-weight="bold" text-anchor="middle">Dependencies</text>
<text x="186.0" y="407.8" font-size="16" fill="#555" font-weight="normal" text-anchor="middle">Direct,</text>
<text x="187.5" y="426.8" font-size="16" fill="#555" font-weight="normal" text-anchor="middle">value chain</text>
<text x="810.4" y="247.5" font-size="19.6" fill="#5b5e5c" font-weight="bold" text-anchor="middle">Direct drivers</text>
<text x="808.5" y="271.5" font-size="19.6" fill="#5b5e5c" font-weight="bold" text-anchor="middle">of biodiversity</text>
<text x="810.4" y="295.3" font-size="19.6" fill="#5b5e5c" font-weight="bold" text-anchor="middle">loss</text>
<text x="808.5" y="338.8" font-size="16.3" fill="#636363" font-weight="normal" text-anchor="middle">Land/sea use</text>
<text x="810.5" y="358.1" font-size="16.3" fill="#636363" font-weight="normal" text-anchor="middle">change</text>
<text x="810.5" y="397.2" font-size="16.3" fill="#636363" font-weight="normal" text-anchor="middle">Direct</text>
<text x="810.5" y="416.6" font-size="16.3" fill="#636363" font-weight="normal" text-anchor="middle">exploitation</text>
<text x="811.0" y="456.4" font-size="16.3" fill="#636363" font-weight="normal" text-anchor="middle">Climate change</text>
<text x="810.5" y="496.2" font-size="16.3" fill="#636363" font-weight="normal" text-anchor="middle">Pollution</text>
<text x="808.5" y="536.2" font-size="16.3" fill="#636363" font-weight="normal" text-anchor="middle">Invasive alien</text>
<text x="810.5" y="555.6" font-size="16.3" fill="#636363" font-weight="normal" text-anchor="middle">species</text>
<text x="688.5" y="381.7" font-size="18.6" fill="#7a1a3a" font-weight="bold" text-anchor="middle">Impacts</text>
<text x="685.7" y="408.2" font-size="16" fill="#7a1a3a" font-weight="normal" text-anchor="middle">Direct, indirect,</text>
<text x="685.7" y="427.0" font-size="16" fill="#7a1a3a" font-weight="normal" text-anchor="middle">value chain,</text>
<text x="685.7" y="446.3" font-size="16" fill="#7a1a3a" font-weight="normal" text-anchor="middle">cumulative</text>
<text x="297.3" y="444.8" font-size="16" fill="#23766f" font-weight="bold" text-anchor="start">Opportunities</text>
<text x="375.9" y="464.1" font-size="16.1" fill="#23766f" font-weight="normal" text-anchor="end">(e.g., new</text>
<text x="357.5" y="483.5" font-size="16.1" fill="#23766f" font-weight="normal" text-anchor="end">products,</text>
<text x="359.0" y="502.4" font-size="16.1" fill="#23766f" font-weight="normal" text-anchor="end">efficiency gains,</text>
<text x="366.1" y="521.5" font-size="16.1" fill="#23766f" font-weight="normal" text-anchor="end">increased resilience,</text>
<text x="352.9" y="540.8" font-size="16.1" fill="#23766f" font-weight="normal" text-anchor="end">conservation,</text>
<text x="378.7" y="560.0" font-size="16.1" fill="#23766f" font-weight="normal" text-anchor="end">restoration and</text>
<text x="376.7" y="579.1" font-size="16.1" fill="#23766f" font-weight="normal" text-anchor="end">sustainable</text>
<text x="387.3" y="598.3" font-size="16.1" fill="#23766f" font-weight="normal" text-anchor="end">management</text>
<text x="378.7" y="617.9" font-size="16.1" fill="#23766f" font-weight="normal" text-anchor="end">practices)</text>
</svg>
</div>
<svg class="abs" style="left:17px;top:570px" width="42" height="42" viewBox="0 0 42 42">
<circle cx="21" cy="20.5" r="20" fill="#2e3431" stroke="#1e2220" stroke-width="0.8"/>
<g fill="none" stroke="#2bd35e" stroke-width="1.5" stroke-linejoin="round" stroke-linecap="round" transform="rotate(-40 21 20.5)">
<path d="M12.3 21.4 Q11.7 20.5 12.3 19.6 L15.6 17.7 H28.6 Q30 17.7 30 19.1 V21.9 Q30 23.3 28.6 23.3 H15.6 Z"/><path d="M26.6 17.7 V23.3"/></g>
</svg>
<svg class="abs" style="left:1142px;top:314px" width="218" height="123" viewBox="1142 314 218 123">
<defs><filter id="b6" x="-30%" y="-30%" width="160%" height="160%"><feGaussianBlur stdDeviation="4.5"/></filter>
<filter id="b3" x="-30%" y="-30%" width="160%" height="160%"><feGaussianBlur stdDeviation="2.2"/></filter>
<filter id="b2" x="-30%" y="-30%" width="160%" height="160%"><feGaussianBlur stdDeviation="1.5"/></filter>
<filter id="b1" x="-30%" y="-30%" width="160%" height="160%"><feGaussianBlur stdDeviation="0.9"/></filter>
<radialGradient id="faceg" cx="0.5" cy="0.45" r="0.62"><stop offset="0" stop-color="#f1dcd3"/><stop offset="0.6" stop-color="#e6cabf"/><stop offset="1" stop-color="#c9a596"/></radialGradient>
<linearGradient id="hairg" x1="0" y1="0" x2="0" y2="1"><stop offset="0" stop-color="#8a6850"/><stop offset="0.35" stop-color="#b39a80"/><stop offset="1" stop-color="#cbb8a0"/></linearGradient>
</defs>
<rect x="1142" y="314" width="218" height="123" fill="#0a0507"/>
<g filter="url(#b6)">
<rect x="1134" y="306" width="72" height="64" fill="#7c4326"/>
<rect x="1138" y="308" width="20" height="44" fill="#5a3220"/>
<rect x="1165" y="308" width="34" height="34" fill="#f2dcc8"/>
<ellipse cx="1180" cy="354" rx="30" ry="12" fill="#b8602c"/>
<ellipse cx="1176" cy="370" rx="36" ry="6" fill="#6a3428"/>
<rect x="1206" y="330" width="18" height="30" fill="#3a1c16"/>
<rect x="1266" y="304" width="102" height="68" fill="#e2e8ea"/>
<rect x="1232" y="310" width="34" height="22" fill="#4e4a58"/>
<rect x="1332" y="304" width="36" height="30" fill="#bfe2ec"/>
<rect x="1284" y="364" width="72" height="16" fill="#b4b3b8"/>
<rect x="1352" y="352" width="12" height="30" fill="#5a1a1c"/>
</g>
<g filter="url(#b3)">
<path d="M1220 436 C1212 404 1220 356 1231 339 C1241 323 1272 322 1281 339 C1292 358 1287 402 1295 428 C1290 440 1282 440 1272 436 L1240 436Z" fill="url(#hairg)"/>
<path d="M1229 366 C1230 338 1246 326 1258 326 C1271 327 1284 340 1284 368 C1272 354 1244 354 1229 366Z" fill="#80604a"/>
<path d="M1258 327 L1259.5 356" stroke="#5a3e30" stroke-width="3"/>
</g>
<g filter="url(#b2)">
<path d="M1233.5 376 C1233.5 361 1245 356 1256.5 356 C1268 356 1278.5 361 1278.5 376 C1278.5 396 1270 417 1256.5 417 C1243 417 1233.5 396 1233.5 376Z" fill="url(#faceg)"/>
<path d="M1246 416 L1269 416 L1282 437 L1248 437Z" fill="#d9c8b6"/>
<ellipse cx="1243" cy="379" rx="7" ry="4" fill="#9c7068" fill-opacity="0.55"/><ellipse cx="1268" cy="379" rx="7" ry="4" fill="#9c7068" fill-opacity="0.55"/>
<ellipse cx="1256.5" cy="396" rx="3.5" ry="5" fill="#f5e4dc" fill-opacity="0.7"/>
</g>
<g filter="url(#b1)">
<path d="M1237 374.5 Q1243 371.5 1249 375.5" stroke="#6a4840" stroke-width="1.4" fill="none"/><path d="M1262 375.5 Q1268 371.5 1274 374" stroke="#6a4840" stroke-width="1.4" fill="none"/>
<ellipse cx="1243.5" cy="380.5" rx="4" ry="1.7" fill="#4a2c30"/><ellipse cx="1268" cy="380.8" rx="4" ry="1.7" fill="#4a2c30"/>
<ellipse cx="1255.5" cy="405" rx="5.5" ry="1.5" fill="#c88a88"/>
<ellipse cx="1229.5" cy="386.5" rx="2.2" ry="3.6" fill="#d8b46a"/><circle cx="1275.5" cy="390" r="1.2" fill="#e8d8b0"/>
</g>
<rect x="1143" y="418" width="106" height="19" fill="#3c3c3c" fill-opacity="0.86"/>
<g fill="#fff"><rect x="1145" y="430" width="2" height="3"/><rect x="1148.8" y="427" width="2" height="6"/><rect x="1152.6" y="424" width="2" height="9"/><rect x="1156.4" y="421" width="2" height="12"/></g>
<text x="1164.3" y="431.6" font-size="12.5" fill="#fff" font-family="Liberation Sans, sans-serif" letter-spacing="0.26">Carter Ingram</text>
</svg>
<div class="abs cap"></div>
<div class="abs" style="left:478px;top:667px;width:21px;height:20px;border-radius:4px;background:#c2402f;color:#fff;font-size:10.5px;line-height:20px;text-align:center;">CI</div>
<svg class="abs" style="left:469px;top:657px" width="397" height="71" viewBox="469 657 397 71" font-family="Liberation Sans, sans-serif" font-size="12.9" fill="#f6ca5a"><text x="511.4" y="678.8" letter-spacing="0.22">Впливи</text><text x="563.5" y="678.8" letter-spacing="0.69">можуть</text><text x="618.1" y="678.8" letter-spacing="0.63">виникати</text><text x="684.5" y="678.8" letter-spacing="0.34">внаслідок</text><text x="751.3" y="678.8" letter-spacing="0.61">різних</text><text x="798.1" y="678.8" letter-spacing="0.39">факторів</text><text x="511.4" y="697.5" letter-spacing="0.34">втрати</text><text x="559.2" y="697.5" letter-spacing="0.56">біорізноманіття,</text><text x="668.5" y="697.5" letter-spacing="0.76">таких</text><text x="708.8" y="697.5" letter-spacing="0.89">як</text><text x="727.6" y="697.5" letter-spacing="0.51">зміна</text><text x="511.4" y="715.8" letter-spacing="0.52">використання</text><text x="607.9" y="715.8" letter-spacing="0.3">суші</text><text x="638.9" y="715.8" letter-spacing="-0.07">та</text><text x="657.4" y="715.8" letter-spacing="0.38">моря,</text><text x="697.9" y="715.8" letter-spacing="0.64">які</text><text x="720.3" y="715.8" letter-spacing="0.66">можуть</text></svg>
<div class="abs task"><svg width="1366" height="40" viewBox="0 728 1366 40" style="position:absolute;left:0;top:0">
<defs>
<linearGradient id="tbg" x1="0" x2="1" y1="0" y2="0"><stop offset="0" stop-color="#2b434a"/><stop offset="0.1" stop-color="#2a464e"/><stop offset="0.22" stop-color="#294049"/><stop offset="0.35" stop-color="#2c4a55"/><stop offset="0.5" stop-color="#244c5e"/><stop offset="0.62" stop-color="#214a5e"/><stop offset="0.75" stop-color="#1d445a"/><stop offset="0.9" stop-color="#173850"/><stop offset="1" stop-color="#16344a"/></linearGradient>
<linearGradient id="tbv" x1="0" x2="0" y1="0" y2="1"><stop offset="0" stop-color="#000" stop-opacity="0.12"/><stop offset="0.5" stop-color="#000" stop-opacity="0"/><stop offset="1" stop-color="#000" stop-opacity="0.1"/></linearGradient>
<filter id="tbl"><feGaussianBlur stdDeviation="1.2"/></filter>
</defs>
<rect x="0" y="728" width="1366" height="40" fill="url(#tbg)"/>
<g filter="url(#tbl)"><path d="M442 727 Q462 725 481 738" stroke="#0a1c28" stroke-opacity="0.15" stroke-width="2.2" fill="none"/><path d="M1243 744 Q1264 720 1286 712" stroke="#9fcad6" stroke-opacity="0.10" stroke-width="1.8" fill="none"/><path d="M1129 754 Q1148 737 1167 735" stroke="#9fcad6" stroke-opacity="0.21" stroke-width="2.2" fill="none"/><path d="M68 730 Q89 725 111 735" stroke="#9fcad6" stroke-opacity="0.13" stroke-width="1.2" fill="none"/><path d="M421 752 Q461 721 500 707" stroke="#0a1c28" stroke-opacity="0.16" stroke-width="1.2" fill="none"/><path d="M973 748 Q1005 747 1037 762" stroke="#08161f" stroke-opacity="0.15" stroke-width="1.6" fill="none"/><path d="M800 762 Q828 744 857 742" stroke="#6da3b6" stroke-opacity="0.17" stroke-width="1.2" fill="none"/><path d="M410 746 Q440 729 470 729" stroke="#8fc0cc" stroke-opacity="0.16" stroke-width="1.2" fill="none"/><path d="M571 747 Q609 716 647 700" stroke="#4f8ea6" stroke-opacity="0.07" stroke-width="1.2" fill="none"/><path d="M762 740 Q801 754 840 785" stroke="#0c2230" stroke-opacity="0.12" stroke-width="2.2" fill="none"/><path d="M623 747 Q663 771 704 811" stroke="#8fc0cc" stroke-opacity="0.17" stroke-width="2.5" fill="none"/><path d="M423 745 Q455 748 488 766" stroke="#4f8ea6" stroke-opacity="0.17" stroke-width="1.7" fill="none"/><path d="M1285 748 Q1311 745 1336 758" stroke="#0a1c28" stroke-opacity="0.09" stroke-width="1.3" fill="none"/><path d="M338 728 Q365 738 392 764" stroke="#9fcad6" stroke-opacity="0.13" stroke-width="1.6" fill="none"/><path d="M187 758 Q215 752 243 763" stroke="#4f8ea6" stroke-opacity="0.22" stroke-width="2.8" fill="none"/><path d="M1308 735 Q1328 716 1347 712" stroke="#0c2230" stroke-opacity="0.10" stroke-width="2.7" fill="none"/><path d="M249 750 Q273 727 296 720" stroke="#0a1c28" stroke-opacity="0.16" stroke-width="2.9" fill="none"/><path d="M943 756 Q974 755 1004 769" stroke="#08161f" stroke-opacity="0.07" stroke-width="2.6" fill="none"/><path d="M1195 743 Q1234 728 1272 728" stroke="#4f8ea6" stroke-opacity="0.08" stroke-width="1.8" fill="none"/><path d="M260 729 Q305 717 349 720" stroke="#8fc0cc" stroke-opacity="0.16" stroke-width="1.0" fill="none"/><path d="M207 725 Q225 713 243 716" stroke="#9fcad6" stroke-opacity="0.20" stroke-width="1.8" fill="none"/><path d="M867 747 Q910 747 954 763" stroke="#0c2230" stroke-opacity="0.08" stroke-width="3.0" fill="none"/><path d="M637 729 Q666 699 696 685" stroke="#0a1c28" stroke-opacity="0.11" stroke-width="2.0" fill="none"/><path d="M945 770 Q976 746 1006 737" stroke="#4f8ea6" stroke-opacity="0.12" stroke-width="2.1" fill="none"/><path d="M37 765 Q68 784 99 819" stroke="#0a1c28" stroke-opacity="0.17" stroke-width="2.0" fill="none"/><path d="M1241 750 Q1266 729 1292 724" stroke="#4f8ea6" stroke-opacity="0.14" stroke-width="1.4" fill="none"/><path d="M1109 763 Q1153 783 1198 819" stroke="#4f8ea6" stroke-opacity="0.19" stroke-width="2.6" fill="none"/><path d="M273 772 Q303 776 333 796" stroke="#0c2230" stroke-opacity="0.19" stroke-width="1.5" fill="none"/><path d="M946 769 Q990 757 1033 761" stroke="#0a1c28" stroke-opacity="0.22" stroke-width="1.2" fill="none"/><path d="M140 747 Q169 731 198 730" stroke="#9fcad6" stroke-opacity="0.22" stroke-width="2.7" fill="none"/><path d="M655 728 Q690 739 724 765" stroke="#0c2230" stroke-opacity="0.17" stroke-width="2.6" fill="none"/><path d="M1025 762 Q1054 737 1083 728" stroke="#08161f" stroke-opacity="0.11" stroke-width="2.9" fill="none"/><path d="M986 728 Q1015 733 1044 753" stroke="#6da3b6" stroke-opacity="0.09" stroke-width="1.1" fill="none"/><path d="M807 753 Q836 753 865 770" stroke="#0c2230" stroke-opacity="0.16" stroke-width="2.3" fill="none"/><path d="M479 725 Q510 696 542 683" stroke="#4f8ea6" stroke-opacity="0.22" stroke-width="1.2" fill="none"/><path d="M1024 733 Q1043 742 1062 767" stroke="#8fc0cc" stroke-opacity="0.20" stroke-width="1.5" fill="none"/><path d="M400 736 Q422 732 445 743" stroke="#6da3b6" stroke-opacity="0.13" stroke-width="1.1" fill="none"/><path d="M1011 763 Q1053 767 1095 788" stroke="#08161f" stroke-opacity="0.14" stroke-width="2.8" fill="none"/><path d="M685 725 Q716 718 747 728" stroke="#6da3b6" stroke-opacity="0.13" stroke-width="2.2" fill="none"/><path d="M1060 754 Q1080 733 1099 729" stroke="#8fc0cc" stroke-opacity="0.08" stroke-width="1.7" fill="none"/><path d="M708 729 Q740 737 771 761" stroke="#6da3b6" stroke-opacity="0.15" stroke-width="1.4" fill="none"/><path d="M58 725 Q76 716 94 722" stroke="#8fc0cc" stroke-opacity="0.20" stroke-width="1.9" fill="none"/><path d="M837 757 Q867 750 897 759" stroke="#9fcad6" stroke-opacity="0.13" stroke-width="2.6" fill="none"/><path d="M694 766 Q716 759 738 768" stroke="#9fcad6" stroke-opacity="0.21" stroke-width="2.8" fill="none"/><path d="M277 743 Q305 731 334 734" stroke="#4f8ea6" stroke-opacity="0.11" stroke-width="1.5" fill="none"/><path d="M100 767 Q135 777 170 803" stroke="#4f8ea6" stroke-opacity="0.08" stroke-width="2.3" fill="none"/><path d="M500 746 Q523 724 545 717" stroke="#8fc0cc" stroke-opacity="0.18" stroke-width="1.8" fill="none"/><path d="M666 732 Q710 750 755 785" stroke="#9fcad6" stroke-opacity="0.13" stroke-width="1.8" fill="none"/><path d="M575 742 Q601 715 627 704" stroke="#0c2230" stroke-opacity="0.11" stroke-width="1.9" fill="none"/><path d="M25 749 Q50 746 75 760" stroke="#08161f" stroke-opacity="0.07" stroke-width="1.5" fill="none"/><path d="M1197 767 Q1215 752 1232 753" stroke="#08161f" stroke-opacity="0.09" stroke-width="1.3" fill="none"/><path d="M577 736 Q619 753 661 785" stroke="#9fcad6" stroke-opacity="0.08" stroke-width="2.1" fill="none"/><path d="M957 757 Q974 735 992 729" stroke="#8fc0cc" stroke-opacity="0.13" stroke-width="1.5" fill="none"/><path d="M23 753 Q41 738 58 738" stroke="#0a1c28" stroke-opacity="0.10" stroke-width="2.7" fill="none"/><path d="M620 768 Q645 763 670 773" stroke="#6da3b6" stroke-opacity="0.10" stroke-width="1.1" fill="none"/><path d="M969 737 Q1012 765 1056 809" stroke="#0a1c28" stroke-opacity="0.09" stroke-width="2.3" fill="none"/><path d="M725 756 Q747 746 768 752" stroke="#08161f" stroke-opacity="0.10" stroke-width="1.0" fill="none"/><path d="M342 750 Q358 749 373 763" stroke="#0c2230" stroke-opacity="0.09" stroke-width="1.5" fill="none"/><path d="M611 756 Q645 757 680 774" stroke="#0c2230" stroke-opacity="0.15" stroke-width="2.9" fill="none"/><path d="M420 734 Q442 715 463 713" stroke="#4f8ea6" stroke-opacity="0.20" stroke-width="2.3" fill="none"/><path d="M553 730 Q578 702 604 689" stroke="#4f8ea6" stroke-opacity="0.07" stroke-width="2.8" fill="none"/><path d="M588 742 Q605 739 622 752" stroke="#0a1c28" stroke-opacity="0.14" stroke-width="2.2" fill="none"/><path d="M946 737 Q963 720 979 718" stroke="#0a1c28" stroke-opacity="0.06" stroke-width="2.9" fill="none"/><path d="M1329 770 Q1360 748 1391 741" stroke="#0a1c28" stroke-opacity="0.11" stroke-width="1.4" fill="none"/><path d="M458 755 Q476 741 493 742" stroke="#08161f" stroke-opacity="0.10" stroke-width="1.0" fill="none"/><path d="M361 726 Q379 715 396 720" stroke="#0a1c28" stroke-opacity="0.06" stroke-width="2.3" fill="none"/><path d="M115 731 Q159 751 203 787" stroke="#08161f" stroke-opacity="0.20" stroke-width="2.8" fill="none"/><path d="M532 731 Q557 745 582 774" stroke="#4f8ea6" stroke-opacity="0.18" stroke-width="1.3" fill="none"/><path d="M1127 745 Q1163 737 1200 746" stroke="#9fcad6" stroke-opacity="0.17" stroke-width="1.3" fill="none"/><path d="M715 763 Q746 773 776 799" stroke="#9fcad6" stroke-opacity="0.19" stroke-width="2.6" fill="none"/><path d="M971 728 Q1015 731 1059 751" stroke="#4f8ea6" stroke-opacity="0.07" stroke-width="1.7" fill="none"/><path d="M143 754 Q183 750 223 763" stroke="#4f8ea6" stroke-opacity="0.16" stroke-width="1.5" fill="none"/><path d="M360 769 Q389 739 418 724" stroke="#8fc0cc" stroke-opacity="0.20" stroke-width="2.3" fill="none"/><path d="M90 728 Q127 703 164 694" stroke="#4f8ea6" stroke-opacity="0.10" stroke-width="2.5" fill="none"/><path d="M315 765 Q350 754 384 760" stroke="#4f8ea6" stroke-opacity="0.07" stroke-width="1.6" fill="none"/><path d="M64 753 Q98 726 132 716" stroke="#4f8ea6" stroke-opacity="0.11" stroke-width="2.5" fill="none"/><path d="M416 727 Q448 691 480 671" stroke="#4f8ea6" stroke-opacity="0.10" stroke-width="1.2" fill="none"/><path d="M297 738 Q327 741 357 760" stroke="#08161f" stroke-opacity="0.13" stroke-width="1.2" fill="none"/><path d="M1221 769 Q1242 779 1263 805" stroke="#0c2230" stroke-opacity="0.06" stroke-width="1.2" fill="none"/><path d="M692 743 Q737 774 782 822" stroke="#6da3b6" stroke-opacity="0.21" stroke-width="1.1" fill="none"/><path d="M123 741 Q161 717 198 709" stroke="#4f8ea6" stroke-opacity="0.16" stroke-width="2.0" fill="none"/><path d="M1211 767 Q1248 742 1284 732" stroke="#8fc0cc" stroke-opacity="0.14" stroke-width="1.3" fill="none"/><path d="M1298 759 Q1333 745 1369 747" stroke="#0c2230" stroke-opacity="0.13" stroke-width="1.6" fill="none"/><path d="M1148 764 Q1163 763 1178 778" stroke="#6da3b6" stroke-opacity="0.08" stroke-width="2.4" fill="none"/><path d="M1232 743 Q1255 729 1279 732" stroke="#9fcad6" stroke-opacity="0.22" stroke-width="1.2" fill="none"/><path d="M1264 737 Q1302 753 1339 786" stroke="#4f8ea6" stroke-opacity="0.07" stroke-width="1.6" fill="none"/><path d="M1278 749 Q1300 731 1323 730" stroke="#0a1c28" stroke-opacity="0.09" stroke-width="2.6" fill="none"/><path d="M584 743 Q600 743 616 758" stroke="#9fcad6" stroke-opacity="0.20" stroke-width="2.1" fill="none"/><path d="M983 746 Q999 745 1016 759" stroke="#4f8ea6" stroke-opacity="0.18" stroke-width="2.7" fill="none"/><path d="M663 732 Q706 728 748 740" stroke="#0a1c28" stroke-opacity="0.13" stroke-width="1.6" fill="none"/><path d="M1010 755 Q1054 728 1098 717" stroke="#9fcad6" stroke-opacity="0.11" stroke-width="2.3" fill="none"/><path d="M164 748 Q198 714 232 696" stroke="#9fcad6" stroke-opacity="0.19" stroke-width="1.4" fill="none"/><path d="M1238 731 Q1283 719 1328 723" stroke="#8fc0cc" stroke-opacity="0.09" stroke-width="1.3" fill="none"/><path d="M759 763 Q784 749 808 751" stroke="#8fc0cc" stroke-opacity="0.09" stroke-width="2.5" fill="none"/><path d="M564 742 Q591 735 619 744" stroke="#8fc0cc" stroke-opacity="0.11" stroke-width="2.0" fill="none"/><path d="M784 749 Q810 750 836 767" stroke="#08161f" stroke-opacity="0.19" stroke-width="1.4" fill="none"/><path d="M370 745 Q393 733 415 737" stroke="#08161f" stroke-opacity="0.21" stroke-width="2.6" fill="none"/><path d="M1322 761 Q1341 750 1360 756" stroke="#9fcad6" stroke-opacity="0.19" stroke-width="2.0" fill="none"/><path d="M100 749 Q143 774 186 815" stroke="#0c2230" stroke-opacity="0.13" stroke-width="1.5" fill="none"/><path d="M149 757 Q169 750 188 758" stroke="#4f8ea6" stroke-opacity="0.21" stroke-width="2.4" fill="none"/><path d="M1156 761 Q1198 722 1240 699" stroke="#6da3b6" stroke-opacity="0.06" stroke-width="1.5" fill="none"/><path d="M1257 730 Q1291 710 1325 706" stroke="#4f8ea6" stroke-opacity="0.10" stroke-width="1.9" fill="none"/><path d="M1043 769 Q1061 755 1079 756" stroke="#0a1c28" stroke-opacity="0.09" stroke-width="1.4" fill="none"/><path d="M821 746 Q836 733 852 735" stroke="#4f8ea6" stroke-opacity="0.21" stroke-width="2.7" fill="none"/><path d="M331 725 Q362 720 393 731" stroke="#4f8ea6" stroke-opacity="0.13" stroke-width="1.6" fill="none"/><path d="M30 744 Q60 746 90 763" stroke="#4f8ea6" stroke-opacity="0.10" stroke-width="1.8" fill="none"/><path d="M506 758 Q536 761 565 779" stroke="#0c2230" stroke-opacity="0.12" stroke-width="1.4" fill="none"/><path d="M1089 734 Q1126 726 1163 735" stroke="#0a1c28" stroke-opacity="0.22" stroke-width="2.5" fill="none"/><path d="M265 767 Q294 746 323 742" stroke="#9fcad6" stroke-opacity="0.08" stroke-width="2.0" fill="none"/><path d="M256 756 Q278 745 299 749" stroke="#6da3b6" stroke-opacity="0.21" stroke-width="2.8" fill="none"/><path d="M74 744 Q90 739 106 749" stroke="#6da3b6" stroke-opacity="0.17" stroke-width="1.8" fill="none"/><path d="M1227 772 Q1268 781 1310 807" stroke="#0a1c28" stroke-opacity="0.21" stroke-width="1.4" fill="none"/><path d="M891 739 Q922 729 953 735" stroke="#08161f" stroke-opacity="0.18" stroke-width="1.7" fill="none"/><path d="M453 737 Q473 711 493 701" stroke="#8fc0cc" stroke-opacity="0.12" stroke-width="2.1" fill="none"/><path d="M1037 739 Q1063 744 1089 764" stroke="#8fc0cc" stroke-opacity="0.19" stroke-width="1.1" fill="none"/><path d="M647 733 Q673 745 699 773" stroke="#0c2230" stroke-opacity="0.12" stroke-width="1.1" fill="none"/><path d="M561 726 Q601 737 640 764" stroke="#8fc0cc" stroke-opacity="0.07" stroke-width="2.6" fill="none"/><path d="M85 753 Q106 729 126 720" stroke="#0a1c28" stroke-opacity="0.12" stroke-width="2.9" fill="none"/><path d="M843 739 Q866 740 889 757" stroke="#8fc0cc" stroke-opacity="0.10" stroke-width="2.4" fill="none"/><path d="M814 727 Q853 751 892 790" stroke="#8fc0cc" stroke-opacity="0.19" stroke-width="2.0" fill="none"/><path d="M1307 736 Q1351 719 1394 718" stroke="#0c2230" stroke-opacity="0.13" stroke-width="1.3" fill="none"/><path d="M678 739 Q694 742 709 762" stroke="#6da3b6" stroke-opacity="0.17" stroke-width="2.2" fill="none"/><path d="M448 762 Q472 747 497 749" stroke="#6da3b6" stroke-opacity="0.07" stroke-width="1.8" fill="none"/><path d="M218 747 Q246 746 273 762" stroke="#6da3b6" stroke-opacity="0.15" stroke-width="3.0" fill="none"/><path d="M1207 728 Q1251 701 1296 690" stroke="#0c2230" stroke-opacity="0.08" stroke-width="3.0" fill="none"/><path d="M1328 746 Q1348 725 1368 719" stroke="#6da3b6" stroke-opacity="0.20" stroke-width="2.5" fill="none"/><path d="M1157 764 Q1192 733 1227 717" stroke="#9fcad6" stroke-opacity="0.11" stroke-width="1.5" fill="none"/><path d="M347 733 Q370 722 393 728" stroke="#0a1c28" stroke-opacity="0.10" stroke-width="2.8" fill="none"/><path d="M790 772 Q815 759 840 762" stroke="#6da3b6" stroke-opacity="0.14" stroke-width="2.3" fill="none"/><path d="M137 724 Q166 692 195 676" stroke="#6da3b6" stroke-opacity="0.20" stroke-width="2.7" fill="none"/></g>
<rect x="0" y="728" width="1366" height="40" fill="url(#tbv)"/>
<rect x="362.5" y="729.5" width="57.0" height="38" fill="#fff" fill-opacity="0.16" stroke="#fff" stroke-opacity="0.40" stroke-width="1"/>
<rect x="486.5" y="729.5" width="57.0" height="38" fill="#fff" fill-opacity="0.16" stroke="#fff" stroke-opacity="0.40" stroke-width="1"/>
<rect x="548.5" y="729.5" width="52.0" height="38" fill="#fff" fill-opacity="0.38" stroke="#fff" stroke-opacity="0.70" stroke-width="1"/>
<rect x="602.5" y="729.5" width="3" height="38" fill="#fff" fill-opacity="0.3" stroke="#fff" stroke-opacity="0.6"/>
<rect x="610.5" y="729.5" width="57.0" height="38" fill="#fff" fill-opacity="0.28" stroke="#fff" stroke-opacity="0.45" stroke-width="1"/>
<g fill="#fff"><path d="M11 737.3 L22.5 735.7 V746.8 H11Z"/><path d="M24 735.5 L37 733.7 V746.8 H24Z"/><path d="M11 748.2 H22.5 V759.3 L11 757.7Z"/><path d="M24 748.2 H37 V761.3 L24 759.5Z"/></g>
<g><path d="M66 741 L66 737 Q66 735.5 67.5 735.5 L78 735.5 L80 738 L94 738 Q96 738 96 740 L96 762 L66 762Z" fill="#e8c25a"/>
<path d="M67 742 H95 V761 H67Z" fill="#f7e19a"/><path d="M67 742 H95 V746 H67Z" fill="#fbeebc"/>
<rect x="69.5" y="736.5" width="3" height="2" fill="#3aa84a"/><rect x="77" y="738.7" width="3" height="2" fill="#d8402c"/><rect x="86" y="740" width="4" height="2" fill="#2f7fd6"/>
<path d="M70 752 Q70 749 73 749 H89 Q92 749 92 752 V762 H86 V757 H76 V762 H70Z" fill="#5fb0e6" stroke="#2f7fb8" stroke-width="0.8"/><rect x="73" y="751" width="16" height="3" fill="#bfe2f7"/></g>
<g><text x="144" y="761" font-size="49" font-weight="bold" fill="#2ea4e8" text-anchor="middle" font-family="Liberation Sans, sans-serif">e</text>
<path d="M133 760.5 C123 752 136 734 153 733.5 C159 733.5 160 737 156.5 739.5" fill="none" stroke="#f2b818" stroke-width="2.6" stroke-linecap="round"/></g>
<g><rect x="189" y="732" width="32" height="32" rx="4" fill="#0c0c0c"/><circle cx="205.5" cy="747" r="10.5" fill="#ececec"/><circle cx="205.5" cy="747" r="6" fill="#1c1c1c"/><circle cx="205.5" cy="747" r="3" fill="#58c83c"/>
<path d="M192 755 Q205 766 219 755" fill="none" stroke="#e8b01c" stroke-width="3"/><path d="M192 755 Q197 759.5 203 760.4" fill="none" stroke="#d8281c" stroke-width="3"/><path d="M209 760.2 Q214 759 219 755" fill="none" stroke="#2cb84a" stroke-width="3"/></g>
<g><circle cx="267" cy="748" r="16" fill="#fff"/><text x="266.5" y="755.5" font-size="23" font-style="italic" font-weight="bold" fill="#223038" text-anchor="middle" font-family="Liberation Sans, sans-serif" letter-spacing="-1.5">hp</text></g>
<g><defs><radialGradient id="ffg" cx="0.6" cy="0.2" r="0.9"><stop offset="0" stop-color="#ffd83a"/><stop offset="0.45" stop-color="#ff8a16"/><stop offset="1" stop-color="#e8303c"/></radialGradient></defs>
<path d="M314 750 C313 740 319 735 323 734 C324 737 326 738 329 738 C330 734 333 732 335 731 C335 735 338 737 341 741 C345 746 345 755 340 760 C334 766 322 766 317 759 C315 756 314 753 314 750Z" fill="url(#ffg)"/>
<circle cx="330" cy="750" r="7" fill="#7a3ad6"/><path d="M320 746 Q326 741 333 746 Q327 745 324 750Z" fill="#ff9a1c"/></g>
<g><circle cx="391" cy="748" r="16" fill="#e23a2e"/><path d="M391 748 L377.1 740 A16 16 0 0 0 391 764 Z" fill="#2da44e"/><path d="M391 748 L391 764 A16 16 0 0 0 404.9 740 Z" fill="#f7c51e"/><path d="M377.1 740 A16 16 0 0 1 404.9 740 L391 740Z" fill="#e23a2e"/>
<circle cx="391" cy="748" r="7.6" fill="#fff"/><circle cx="391" cy="748" r="6" fill="#3f7fe8"/></g>
<g><rect x="438" y="733" width="26" height="28" fill="#f4f0ea" stroke="#d86a2a" stroke-width="1"/><rect x="438" y="733" width="14" height="28" fill="#e8581c"/>
<text x="445.6" y="755" font-size="21" font-weight="bold" fill="#fff" text-anchor="middle" font-family="Liberation Sans, sans-serif">P</text>
<rect x="449" y="748" width="17" height="13" fill="#fff" stroke="#e8581c" stroke-width="1.5" transform="rotate(-12 457 754)"/><circle cx="459" cy="753" r="3.2" fill="#e8581c"/></g>
<g><circle cx="510" cy="743" r="9" fill="#28aeea"/><circle cx="519" cy="754" r="9" fill="#28aeea"/><circle cx="514.5" cy="748.5" r="12.5" fill="#28aeea"/>
<text x="514.5" y="757.5" font-size="25" font-weight="bold" fill="#fff" text-anchor="middle" font-family="Liberation Sans, sans-serif">S</text>
<circle cx="523.5" cy="757.5" r="5.2" fill="#fff" stroke="#7cc02a" stroke-width="1.8"/></g>
<g><circle cx="574" cy="748" r="15.5" fill="url(#zmg2)"/><defs><linearGradient id="zmg2" x1="0" y1="0" x2="0" y2="1"><stop offset="0" stop-color="#2a78ff"/><stop offset="1" stop-color="#0a38c8"/></linearGradient></defs>
<text x="574" y="753.5" font-size="15.5" font-weight="bold" fill="#fff" text-anchor="middle" font-family="Liberation Sans, sans-serif" letter-spacing="-0.3">zm</text></g>
<g><path d="M624 757 C618 750 622 738 634 736 C646 734 652 742 650 749 C648 755 642 752 640 756 C638 761 630 763 624 757Z" fill="#dfe6ec" stroke="#8aa0b4" stroke-width="0.8"/>
<circle cx="629" cy="748" r="2.3" fill="#d8382c"/><circle cx="634" cy="742.5" r="2.3" fill="#e8b81c"/><circle cx="641" cy="741.5" r="2.3" fill="#3aa84a"/><circle cx="631" cy="755" r="2.3" fill="#2f7fd6"/>
<path d="M637 763 L647 741 L650 742.5 L640 764Z" fill="#e8962c"/><path d="M647 741 L649 733 L652.5 735 L650 742.5Z" fill="#c87a3a"/></g>
<path d="M1178 750.5 L1182 746 L1186 750.5Z" fill="#fff"/>
<g fill="#fff"><rect x="1200" y="742" width="1.6" height="13"/><path d="M1202 743 H1208 V749.5 H1202Z"/><path d="M1208.6 744.5 L1213.5 745.8 L1212.6 748.2 L1208.6 749.5Z"/></g>
<g fill="#fff"><rect x="1224" y="752" width="1.6" height="1.8"/><rect x="1226.8" y="750.5" width="1.6" height="3.3"/><rect x="1229.6" y="748.5" width="1.8" height="5.3"/><rect x="1232.6" y="746" width="1.8" height="7.8"/><rect x="1235.6" y="743.5" width="2" height="10.3"/></g>
<text x="1264" y="753.5" font-size="11.5" fill="#fff" text-anchor="middle" font-family="Liberation Sans, sans-serif">УКР</text>
<text x="1320.5" y="744.8" font-size="11.6" fill="#fff" text-anchor="middle" font-family="Liberation Sans, sans-serif" letter-spacing="-0.3">16:25</text>
<text x="1320" y="762" font-size="11.6" fill="#fff" text-anchor="middle" font-family="Liberation Sans, sans-serif" letter-spacing="-0.35">22.04.2026</text>
</svg></div>
</body></html>
